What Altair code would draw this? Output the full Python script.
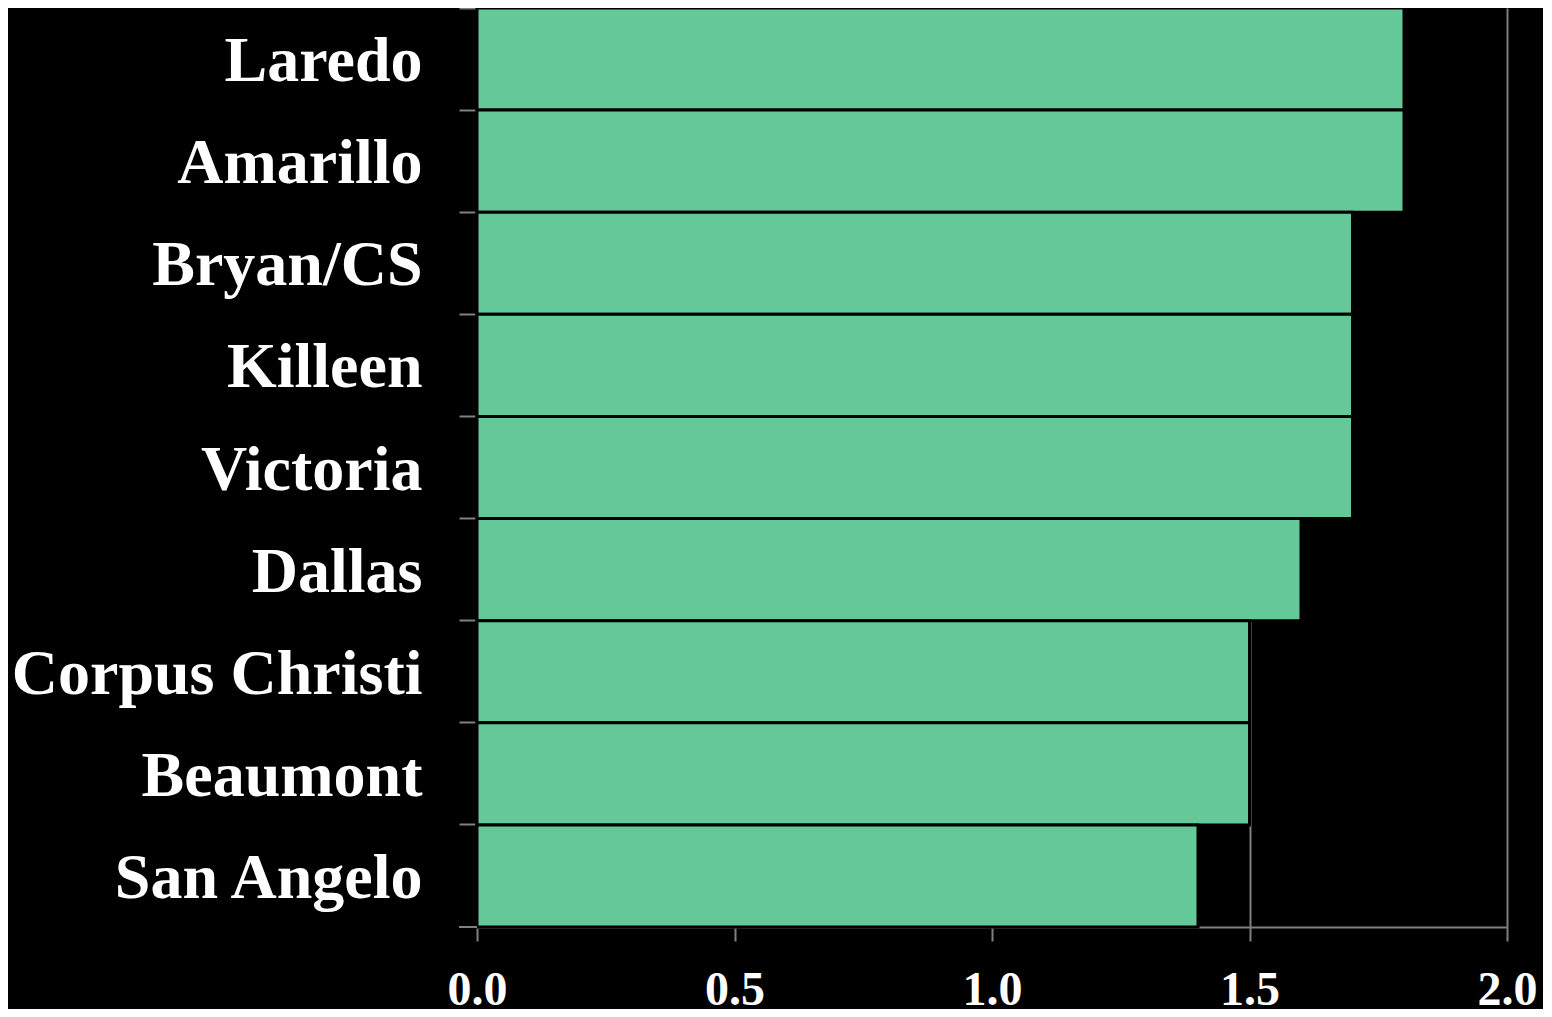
import altair as alt
import pandas as pd

cities = ["Laredo", "Amarillo", "Bryan/CS", "Killeen", "Victoria",
          "Dallas", "Corpus Christi", "Beaumont", "San Angelo"]
values = [1.8, 1.8, 1.7, 1.7, 1.7, 1.6, 1.5, 1.5, 1.4]
x_ticks = [0.0, 0.5, 1.0, 1.5, 2.0]

df = pd.DataFrame({"city": cities, "value": values})

W, H = 1030, 919
FONT = "Liberation Serif"

bars = alt.Chart(df).mark_bar(
    color="#64C898", stroke="#000000", strokeWidth=3
).encode(
    y=alt.Y("city:N", sort=cities, title=None,
            scale=alt.Scale(paddingInner=0, paddingOuter=0),
            axis=alt.Axis(bandPosition=0, tickSize=18, tickColor="#808080",
                          tickWidth=2, domainColor="#808080", domainWidth=2,
                          labelFont=FONT, labelFontWeight="bold",
                          labelFontSize=64, labelColor="#ffffff",
                          labelPadding=37, labelOffset=3,
                          grid=False, labelLimit=0)),
    x=alt.X("value:Q", title=None,
            scale=alt.Scale(domain=[0, 2], nice=False),
            axis=alt.Axis(values=x_ticks, format=".1f", tickSize=14,
                          tickColor="#808080", tickWidth=2,
                          domainColor="#808080", domainWidth=2,
                          grid=True, gridColor="#808080", gridWidth=2,
                          gridOpacity=1,
                          labelFont=FONT, labelFontWeight="bold",
                          labelFontSize=48, labelColor="#ffffff",
                          labelPadding=25, labelFlush=False)),
)

bottom_tick = alt.Chart(df).mark_rule(color="#808080", strokeWidth=2).encode(
    x=alt.value(-18), x2=alt.value(0), y=alt.value(H)
)

chart = alt.layer(bars, bottom_tick).properties(
    width=W, height=H,
    background="#000000",
    padding={"left": 469, "top": 0, "right": 36, "bottom": 82},
    autosize=alt.AutoSizeParams(type="none"),
).configure_view(stroke=None)

chart.save("out.html", embed_options={"renderer": "svg", "actions": False})
